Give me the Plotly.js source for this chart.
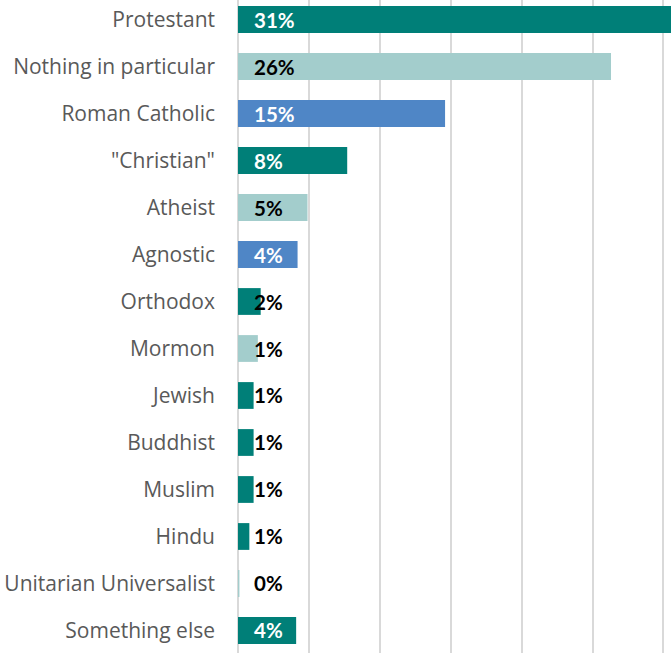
<!DOCTYPE html>
<html>
<head>
<meta charset="utf-8">
<script src="https://cdn.plot.ly/plotly-3.0.1.min.js"></script>
<style>
  html, body { margin: 0; padding: 0; background: #ffffff; }
  #chart { width: 671px; height: 653px; }
</style>
</head>
<body>
<div id="chart"></div>
<script>
// Religious identity shares, in percent
const categories = [
  'Protestant', 'Nothing in particular', 'Roman Catholic', '"Christian"',
  'Atheist', 'Agnostic', 'Orthodox', 'Mormon', 'Jewish', 'Buddhist',
  'Muslim', 'Hindu', 'Unitarian Universalist', 'Something else'
];
const shares = [31.0, 26.3, 14.6, 7.7, 4.9, 4.2, 1.6, 1.4, 1.1, 1.1, 1.1, 0.8, 0.1, 4.1];

// Bar fills and label colours, one per category
const TEAL = '#007f78', LIGHT = '#a3cdcc', BLUE = '#4f86c6';
const barColors = [TEAL, LIGHT, BLUE, TEAL, LIGHT, BLUE, TEAL, LIGHT, TEAL, TEAL, TEAL, TEAL, LIGHT, TEAL];
const labelColors = ['#ffffff', '#000000', '#ffffff', '#ffffff', '#000000', '#ffffff',
  '#000000', '#000000', '#000000', '#000000', '#000000', '#000000', '#000000', '#ffffff'];

const trace = {
  type: 'bar',
  orientation: 'h',
  x: shares,
  y: categories,
  marker: { color: barColors, line: { width: 0 } },
  hoverinfo: 'none',
  cliponaxis: true
};

// Value labels pinned near the bar base
const annotations = categories.map((c, i) => ({
  x: 0,
  y: c,
  xref: 'x',
  yref: 'y',
  xanchor: 'left',
  yanchor: 'middle',
  xshift: 14,
  text: Math.round(shares[i]) + '%',
  showarrow: false,
  font: { family: 'Lato, sans-serif', size: 20.5, color: labelColors[i], weight: 'bold' }
}));

const layout = {
  width: 671,
  height: 653,
  margin: { l: 238, r: 0, t: 0, b: 0, pad: 0 },
  paper_bgcolor: '#ffffff',
  plot_bgcolor: '#ffffff',
  bargap: 0.43,
  showlegend: false,
  font: { family: 'Lato, sans-serif' },
  xaxis: {
    range: [0, 30.53],
    dtick: 5,
    showgrid: true,
    gridcolor: '#d9d9d9',
    gridwidth: 2,
    zeroline: true,
    zerolinecolor: '#d9d9d9',
    zerolinewidth: 2,
    showticklabels: false,
    showline: false,
    fixedrange: true
  },
  yaxis: {
    type: 'category',
    range: [13.479, -0.415],
    showgrid: false,
    zeroline: false,
    showline: false,
    ticks: '',
    ticklabelstandoff: 22,
    tickfont: { family: '"Open Sans", sans-serif', size: 21, color: '#595959' },
    fixedrange: true
  },
  annotations: annotations
};

Plotly.newPlot('chart', [trace], layout, { displayModeBar: false, staticPlot: true });
</script>
</body>
</html>
